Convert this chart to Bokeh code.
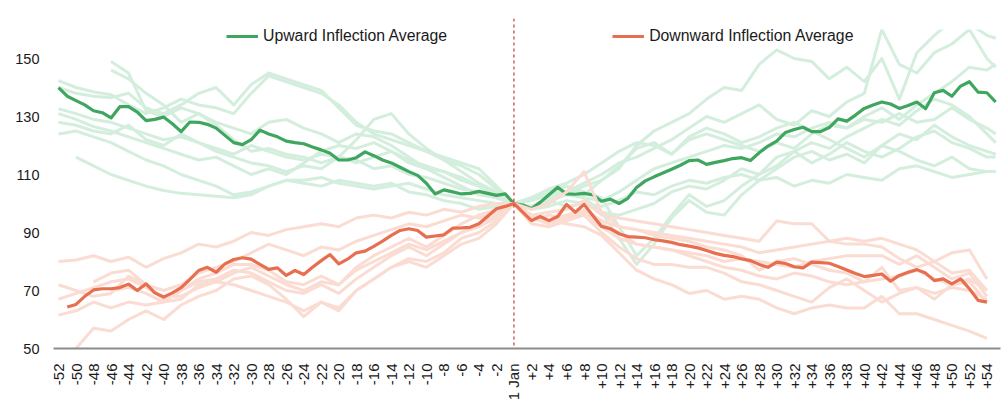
import numpy as np
from bokeh.plotting import figure
from bokeh.models import Range1d, FixedTicker, Span, BoxAnnotation, Legend, LegendItem
from bokeh.embed import file_html
from bokeh.resources import INLINE

# ---------------- data ----------------
WEEKS = list(range(-52, 56))                      # weekly axis, 0 = 1 Jan
FAINT_WEEKS = list(range(-52, 55, 2)) + [55]      # faint individual series (2-weekly)

TICK_WEEKS = list(range(-52, 55, 2))
TICK_LABELS = [("1 Jan" if w == 0 else (f"+{w}" if w > 0 else f"{w}")) for w in TICK_WEEKS]
Y_TICKS = [50, 70, 90, 110, 130, 150]

GREEN_AVG = [
    140.0, 137.0, 135.5, 134.0, 132.0, 131.3, 129.5, 133.4, 133.4, 131.5,
    128.6, 129.0, 129.8, 127.5, 124.8, 128.1, 128.0, 127.3, 126.0, 123.5,
    121.0, 120.3, 122.0, 125.3, 124.0, 123.0, 121.5, 121.0, 120.6, 119.5,
    118.5, 117.3, 115.0, 115.0, 115.8, 117.8, 116.5, 115.0, 114.0, 112.5,
    111.0, 109.7, 107.0, 103.3, 104.7, 104.0, 103.3, 103.5, 104.2, 103.5,
    102.8, 103.3, 100.0,
    99.5, 98.2, 100.4, 103.0, 105.6, 103.3, 103.2, 103.5, 103.0, 100.8,
    101.5, 100.0, 101.8, 105.5, 107.8, 109.2, 110.5, 111.8, 113.2, 114.8,
    115.0, 113.5, 114.2, 114.8, 115.5, 115.8, 114.8, 117.5, 119.8, 121.5,
    124.5, 125.5, 126.3, 124.8, 124.8, 126.2, 129.2, 128.4, 130.5, 132.8,
    134.0, 135.0, 134.3, 132.8, 133.8, 135.0, 132.7, 138.2, 139.0, 137.0,
    140.5, 142.0, 138.4, 138.2, 135.0,
]

ORANGE_AVG = [
    None, 64.3, 65.2, 68.0, 70.2, 70.6, 70.6, 71.0, 72.2, 70.0,
    72.3, 69.2, 67.7, 69.2, 71.0, 73.8, 76.9, 78.0, 76.3, 79.2,
    80.7, 81.3, 80.8, 79.0, 77.3, 77.8, 75.2, 76.9, 75.5, 78.0,
    80.3, 82.4, 79.2, 80.8, 83.0, 83.6, 85.2, 87.0, 89.0, 90.7,
    91.3, 90.7, 88.4, 88.8, 89.2, 91.5, 91.6, 91.8, 93.0, 95.6,
    98.2, 99.0, 100.0,
    97.0, 94.1, 95.5, 94.1, 95.5, 99.7, 97.0, 99.7, 95.9, 92.1,
    91.3, 89.6, 88.6, 88.4, 88.2, 87.5, 87.1, 86.6, 85.8, 85.3,
    84.7, 83.8, 82.8, 82.1, 81.7, 80.9, 80.3, 79.0, 78.0, 79.8,
    79.3, 78.2, 77.8, 79.8, 79.6, 79.4, 78.3, 77.1, 75.9, 74.8,
    75.2, 75.7, 73.2, 75.2, 76.3, 77.2, 76.0, 73.4, 74.0, 72.3,
    74.0, 70.6, 66.6, 66.0, None,
]

N = None
GREEN_1 = [142.4, 140, 138.5, 137.5, 134, 131, 133, 136, 134, 133, 131, 138, 144, 142, 140, 138, 134, 128, 124, 122, 120, 118, 116, 114, 112, 106,
           100,
           101, 104, 106, 103, 108, 112, 120, 125, 128, 131, 136, 140, 139, 148, 153, 150, 149, 143, 147, 142, 150, 136, 152, 158, 163, 162, 158,
           157]
GREEN_2 = [140, 138, 137, 136.5, 138, 133, 131, 134, 138, 140, 134, 141, 145, 143, 141, 139, 133, 127, 125, 124, 121, 118, 115, 113, 110, 105,
           100,
           102, 105, 104, 107, 110, 114, 116, 119, 122, 126, 130, 128, 131, 134, 129, 127, 132, 130, 135, 138, 160, 148, 145, 152, 155, 160, 150,
           147]
GREEN_3 = [N, N, N, 149, 145, 132, 130, 133, 131, 127, 122, 118, 119, 117, 116, 114, 116, 115, 112, 113, 110, 109, 107, 105, 104, 102,
           100,
           99, 102, 104, 102, 97, 88, 79, 86, 95, 101, 97, 96, 103, 108, 112, 116, 118, 115, 117, 114, 120, 124, 122, 127, 123, 120, 118,
           117]
GREEN_4 = [N, N, N, 146, 143, 138, 134, 128, 131, 128, 126, 124, 128, 129, 126, 124, 121, 124, 123, 120, 116, 112, 111, 108, 106, 103,
           100,
           101, 103, 106, 104, 102, 92, 82, 88, 96, 103, 99, 101, 106, 110, 113, 118, 121, 119, 123, 126, 129, 127, 132, 136, 134, 130, 124,
           121]
GREEN_5 = [132.7, 131, 129, 128, 126, 124, 122, 123, 121, 118, 116, 114, 113, 111, 113, 112, 116, 122, 129, 131, 124, 119, 115, 111, 107, 104,
           100,
           102, 104, 103, 106, 108, 113, 119, 121, 117, 122, 124, 122, 120, 118, 121, 119, 124, 127, 126, 129, 128, 131, 128, 129, 133, 129, 126,
           124]
GREEN_6 = [131, 129, 126.5, 125, 123, 121, 119, 117, 115, 116, 113, 110, 112, 110, 114, 118, 120, 119, 121, 118, 114, 112, 109, 106, 103, 102,
           100,
           99, 101, 99, 100, 97, 96, 98, 100, 104, 106, 105, 108, 112, 110, 116, 118, 114, 117, 121, 118, 116, 119, 123, 125, 121, 119, 116,
           116]
GREEN_7 = [124, 125, 123, 121, 118, 115, 113, 110, 108, 106, 103, 104, 106, 108, 107, 106, 108, 107, 106, 107, 104, 103, 101, 100, 98, 99,
           100,
           98, 99, 101, 100, 99, 101, 104, 103, 106, 108, 107, 109, 110, 108, 109, 106, 108, 107, 110, 109, 108, 112, 113, 111, 109, 110, 111,
           111]
GREEN_8 = [N, 116, 113, 110, 108, 106, 104.5, 103.5, 103, 102.5, 102, 103, 106, 108, 108, 109, 107, 106, 105, 106, 107, 105, 103, 102, 101, 100,
           100,
           99, 101, 103, 102, 101, 104, 108, 112, 114, 116, 118, 120, 119, 121, 124, 123, 126, 128, 126, 130, 133, 129, 134, 138, 142, 147, 146,
           148]
GREEN_9 = [128, 127, 125, 124, 127, 122, 120, 124, 121, 119, 117, 120, 118, 116, 115, 117, 116, 114, 116, 118, 115, 113, 111, 109, 106, 103,
           100,
           101, 105, 107, 110, 114, 118, 121, 120, 117, 123, 126, 124, 121, 123, 126, 128, 125, 122, 119, 116, 120, 118, 115, 113, 116, 112, 111,
           111]

ORANGE_1 = [80, 80.5, 82, 80, 81.5, 78, 81, 83, 86, 85, 87, 90, 89, 91, 92, 93, 92, 95, 96, 95, 97, 96, 98, 97, 99, 100,
            100,
            96, 97, 98, 101, 96, 95, 94, 93, 92, 91, 90, 89, 88, 87, 94, 93, 93, 87, 88, 87, 88, 86, 84, 80, 83, 84, 74,
            N]
ORANGE_2 = [72, 70, 68, 69, 75, 72, 70, 72, 76, 78, 80, 83, 86, 84, 82, 85, 84, 87, 89, 91, 93, 92, 94, 96, 95, 97,
            100,
            95, 94, 96, 98, 94, 92, 91, 90, 89, 88, 87, 86, 85, 83, 84, 85, 86, 87, 86, 86, 85, 81, 78, 80, 76, 77, 70,
            N]
ORANGE_3 = [67, 69, 71, 73, 74, 71, 68, 68, 71, 73, 76, 78, 75, 72, 70, 73, 72, 77, 80, 83, 86, 84, 87, 90, 92, 95,
            100,
            93, 92, 94, 96, 92, 88, 86, 85, 84, 83, 82, 80, 81, 80, 79, 78, 80, 81, 82, 82, 82, 79, 82, 78, 74, 76, 68,
            N]
ORANGE_4 = [61.5, 63, 66, 64, 66, 65, 66, 67, 72, 73, 72, 70, 68, 66, 63, 66, 64, 70, 74, 78, 80, 78, 82, 86, 88, 93,
            100,
            94, 96, 95, 97, 93, 90, 86, 85, 84, 82, 80, 78, 77, 75, 74, 76, 75, 73, 72, 73, 74, 75, 77, 74, 72, 73, 66,
            N]
ORANGE_5 = [N, 50, 57, 56, 60, 63, 60, 65, 68, 70, 74, 75, 72, 67, 61, 66, 63, 70, 74, 78, 81, 80, 83, 88, 90, 94,
            100,
            96, 94, 93, 92, 89, 83, 77, 74, 72, 69, 70, 67, 68, 67, 64, 62, 64, 65, 64, 64, 68, 62, 62, 60, 58, 56, 53.5,
            N]
ORANGE_6 = [N, N, 73, 76, 77, 72, 67, 70, 74, 76, 79, 79, 77, 73, 72, 75, 72, 78, 82, 85, 88, 85, 89, 93, 96, 98,
            100,
            98, 100, 104, 111, 97, 92, 91, 89, 88, 87, 85, 84, 82, 77, 80, 81, 79, 77, 76, 73, 78, 70, 71, 69, 71, 70, 67,
            N]
ORANGE_7 = [N, N, N, 70, 71, 69, 66, 70, 73, 74, 77, 76, 73, 70, 69, 72, 69, 74, 78, 82, 85, 82, 86, 90, 93, 96,
            100,
            95, 93, 95, 96, 90, 85, 81, 79, 79, 78, 78, 76, 73, 72, 70, 68, 66, 71, 74, 70, 66, 69, 71, 67, 72, 74, 70,
            N]

GREEN_FAINT = [GREEN_1, GREEN_2, GREEN_3, GREEN_4, GREEN_5, GREEN_6, GREEN_7, GREEN_8, GREEN_9]
ORANGE_FAINT = [ORANGE_1, ORANGE_2, ORANGE_3, ORANGE_4, ORANGE_5, ORANGE_6, ORANGE_7]


def arr(v):
    return np.array([np.nan if x is None else x for x in v], dtype=float)


# ---------------- styling ----------------
GREEN = "#3FA65F"
GREEN_LIGHT = "#D4EEDD"
ORANGE = "#E76F4F"
ORANGE_LIGHT = "#FBDCD2"
FONT = "Liberation Sans"

p = figure(width=1003, height=403, output_backend="svg", toolbar_location=None,
           x_range=Range1d(-52.57, 55.55), y_range=Range1d(50, 163.8),
           min_border_left=53, min_border_right=3, min_border_top=18, min_border_bottom=55)
p.outline_line_color = None
p.grid.visible = False
p.background_fill_color = "white"

for s in GREEN_FAINT:
    p.line(FAINT_WEEKS, arr(s), line_color=GREEN_LIGHT, line_width=3, line_join="round")
g_avg = p.line(WEEKS, arr(GREEN_AVG), line_color=GREEN, line_width=3.2, line_join="round")
for s in ORANGE_FAINT:
    p.line(FAINT_WEEKS, arr(s), line_color=ORANGE_LIGHT, line_width=3, line_join="round")
o_avg = p.line(WEEKS, arr(ORANGE_AVG), line_color=ORANGE, line_width=3.2, line_join="round")

# mask area above the 160 value ceiling
p.add_layout(BoxAnnotation(bottom=160, fill_color="white", fill_alpha=1.0, line_color=None))
p.add_layout(Span(location=0, dimension="height", line_color="#C8373A", line_width=1.2, line_dash="3 3"))

# axes
xa = p.xaxis[0]
xa.ticker = FixedTicker(ticks=TICK_WEEKS)
xa.major_label_overrides = {w: lab for w, lab in zip(TICK_WEEKS, TICK_LABELS)}
xa.major_label_orientation = np.pi / 2
xa.major_tick_line_color = None
xa.minor_tick_line_color = None
xa.major_tick_out = 0
xa.major_label_standoff = 15
xa.axis_line_color = "#8C8C8C"
xa.axis_line_width = 2.2
xa.major_label_text_font = FONT
xa.major_label_text_font_size = "15px"
xa.major_label_text_color = "#1A1A1A"

ya = p.yaxis[0]
ya.ticker = FixedTicker(ticks=Y_TICKS)
ya.axis_line_color = None
ya.major_tick_line_color = None
ya.minor_tick_line_color = None
ya.major_tick_out = 0
ya.major_label_standoff = 14
ya.major_label_text_font = FONT
ya.major_label_text_font_size = "14.5px"
ya.major_label_text_color = "#1A1A1A"

legend = Legend(items=[LegendItem(label="Upward Inflection Average", renderers=[g_avg]),
                       LegendItem(label="Downward Inflection Average", renderers=[o_avg])],
                orientation="horizontal", location=(173, 302), spacing=165, padding=0, margin=0,
                glyph_width=32, glyph_height=20, label_standoff=5, label_height=20,
                label_text_font=FONT, label_text_font_size="15.8px", label_text_color="#1A1A1A",
                border_line_color=None, background_fill_alpha=0)
p.add_layout(legend)

open("out.html", "w").write(file_html(p, INLINE))
